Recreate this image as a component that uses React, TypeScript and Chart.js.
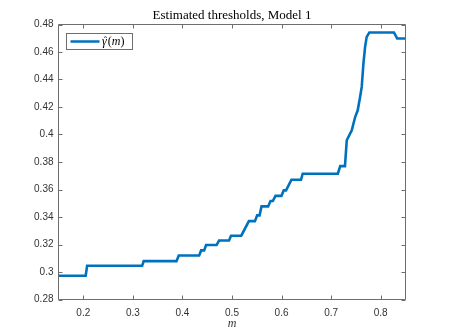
import React, { useEffect, useRef } from "react";
import { Chart, registerables } from "chart.js";

Chart.register(...registerables);

const titleText = "Estimated thresholds, Model 1";
const xLabelText = "m";
const xTicks = [0.2, 0.3, 0.4, 0.5, 0.6, 0.7, 0.8];
const yTicks = [0.28, 0.3, 0.32, 0.34, 0.36, 0.38, 0.4, 0.42, 0.44, 0.46, 0.48];

const mValues = [
  0.15, 0.2048, 0.2078, 0.3187, 0.3219, 0.388, 0.3926, 0.4337, 0.4378, 0.4438,
  0.4478, 0.4689, 0.4739, 0.494, 0.498, 0.5187, 0.5341, 0.5462, 0.5508, 0.5556,
  0.5596, 0.5729, 0.5777, 0.5823, 0.5878, 0.5998, 0.6044, 0.609, 0.6199, 0.6392,
  0.6426, 0.7135, 0.7183, 0.7279, 0.7315, 0.7416, 0.7484, 0.7536, 0.7584, 0.7617,
  0.7651, 0.7685, 0.7717, 0.7771, 0.8267, 0.8333, 0.85,
];
const gammaValues = [
  0.2973, 0.2973, 0.3045, 0.3045, 0.3079, 0.3079, 0.312, 0.312, 0.3157, 0.3157,
  0.3196, 0.3196, 0.3229, 0.3229, 0.3264, 0.3264, 0.337, 0.337, 0.3412, 0.3412,
  0.3477, 0.3477, 0.3516, 0.3516, 0.3554, 0.3554, 0.3594, 0.3594, 0.3671, 0.3671,
  0.3715, 0.3715, 0.377, 0.377, 0.3958, 0.403, 0.4127, 0.4176, 0.4273, 0.4346,
  0.4516, 0.4637, 0.471, 0.4742, 0.4742, 0.4698, 0.4698,
];

const LINE_COLOR = "#0072BD";
const AXIS_COLOR = "#6e6e6e";
const TEXT_COLOR = "#333333";

const matlabPlugin = {
  id: "matlabFrame",
  afterDraw(chart: any) {
    const { ctx, chartArea: a, scales } = chart;
    const xs = scales.x;
    const ys = scales.y;
    ctx.save();
    ctx.strokeStyle = AXIS_COLOR;
    ctx.lineWidth = 1;
    ctx.beginPath();
    ctx.rect(a.left, a.top, a.right - a.left, a.bottom - a.top);
    ctx.stroke();
    const tl = 4;
    ctx.beginPath();
    xTicks.forEach((t) => {
      const px = Math.round(xs.getPixelForValue(t)) + 0.5;
      ctx.moveTo(px, a.bottom);
      ctx.lineTo(px, a.bottom - tl);
      ctx.moveTo(px, a.top);
      ctx.lineTo(px, a.top + tl);
    });
    yTicks.forEach((t) => {
      const py = Math.round(ys.getPixelForValue(t)) + 0.5;
      ctx.moveTo(a.left, py);
      ctx.lineTo(a.left + tl, py);
      ctx.moveTo(a.right, py);
      ctx.lineTo(a.right - tl, py);
    });
    ctx.stroke();

    const cx = (a.left + a.right) / 2;
    // title
    ctx.fillStyle = "#000";
    ctx.font = '13px "Liberation Serif"';
    ctx.textAlign = "center";
    ctx.textBaseline = "alphabetic";
    ctx.fillText(titleText, cx, 18.5);
    // x label
    ctx.fillStyle = TEXT_COLOR;
    ctx.font = 'italic 12px "Liberation Serif"';
    ctx.fillText(xLabelText, cx, 327);

    // legend
    const lx = 66.5, ly = 33.5, lw = 66, lh = 16;
    ctx.fillStyle = "#fff";
    ctx.fillRect(lx, ly, lw, lh);
    ctx.strokeStyle = AXIS_COLOR;
    ctx.lineWidth = 1;
    ctx.strokeRect(lx, ly, lw, lh);
    ctx.strokeStyle = LINE_COLOR;
    ctx.lineWidth = 2.5;
    ctx.beginPath();
    ctx.moveTo(70.5, 41.5);
    ctx.lineTo(99.5, 41.5);
    ctx.stroke();
    ctx.fillStyle = "#000";
    ctx.textAlign = "left";
    let tx = 102;
    const base = 45;
    ctx.font = 'italic 12px "Liberation Serif"';
    ctx.fillText("γ", tx, base);
    const gw = ctx.measureText("γ").width;
    ctx.font = '10px "Liberation Serif"';
    ctx.textAlign = "center";
    ctx.fillText("ˆ", tx + gw / 2 + 1, base - 1);
    ctx.textAlign = "left";
    tx += gw + 1;
    ctx.font = '12px "Liberation Serif"';
    ctx.fillText("(", tx, base);
    tx += ctx.measureText("(").width;
    ctx.font = 'italic 12px "Liberation Serif"';
    ctx.fillText("m", tx, base);
    tx += ctx.measureText("m").width;
    ctx.font = '12px "Liberation Serif"';
    ctx.fillText(")", tx, base);
    ctx.restore();
  },
};

export default function App() {
  const ref = useRef<HTMLCanvasElement>(null);
  useEffect(() => {
    const canvas = ref.current;
    if (!canvas) return;
    const points = mValues.map((m, i) => ({ x: m, y: gammaValues[i] }));
    const chart = new Chart(canvas, {
      type: "scatter",
      data: {
        datasets: [
          {
            label: "γ̂(m)",
            data: points,
            showLine: true,
            borderColor: LINE_COLOR,
            backgroundColor: LINE_COLOR,
            borderWidth: 2.6,
            pointRadius: 0,
            tension: 0,
          },
        ],
      },
      options: {
        responsive: false,
        animation: false,
        devicePixelRatio: 1,
        layout: { padding: { left: 0, right: 43.5, top: 24.5, bottom: 0 } },
        plugins: {
          legend: { display: false },
          title: { display: false },
          tooltip: { enabled: false },
        },
        scales: {
          x: {
            type: "linear",
            min: 0.15,
            max: 0.85,
            afterFit: (s: any) => {
              s.height = 36.5;
            },
            afterBuildTicks: (s: any) => {
              s.ticks = xTicks.map((v) => ({ value: v }));
            },
            grid: { display: false, drawTicks: false },
            border: { display: false },
            ticks: {
              padding: 8,
              color: TEXT_COLOR,
              font: { family: '"Liberation Sans"', size: 10 },
              maxRotation: 0,
              autoSkip: false,
              callback: (v: any) => String(Number(Number(v).toFixed(2))),
            },
          },
          y: {
            type: "linear",
            min: 0.28,
            max: 0.48,
            afterFit: (s: any) => {
              s.width = 58.5;
            },
            afterBuildTicks: (s: any) => {
              s.ticks = yTicks.map((v) => ({ value: v }));
            },
            grid: { display: false, drawTicks: false },
            border: { display: false },
            ticks: {
              padding: 5,
              color: TEXT_COLOR,
              font: { family: '"Liberation Sans"', size: 10 },
              autoSkip: false,
              callback: (v: any) => String(Number(Number(v).toFixed(2))),
            },
          },
        },
      },
      plugins: [matlabPlugin],
    });
    return () => chart.destroy();
  }, []);
  return (
    <div style={{ position: "fixed", left: 0, top: 0, width: 449, height: 336, background: "#fff" }}>
      <canvas ref={ref} width={449} height={336} style={{ width: 449, height: 336, display: "block" }} />
    </div>
  );
}
